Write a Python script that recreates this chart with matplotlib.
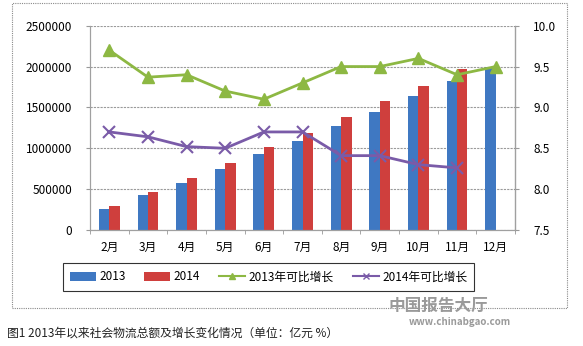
import matplotlib
matplotlib.use("Agg")
import matplotlib.pyplot as plt
import numpy as np
from matplotlib.patches import Patch, Rectangle
from matplotlib.lines import Line2D

plt.rcParams['font.family'] = ['Noto Sans CJK SC', 'DejaVu Sans']

months = ["2月", "3月", "4月", "5月", "6月", "7月", "8月", "9月", "10月", "11月", "12月"]
total_2013 = [257000, 432000, 580000, 744000, 927000, 1091000, 1275000, 1450000, 1634000, 1826000, 1989000]
total_2014 = [290000, 470000, 633000, 817000, 1017000, 1192000, 1381000, 1581000, 1765000, 1973000]
growth_2013 = [9.7, 9.37, 9.4, 9.2, 9.1, 9.3, 9.5, 9.5, 9.6, 9.4, 9.5]
growth_2014 = [8.7, 8.64, 8.52, 8.5, 8.7, 8.7, 8.41, 8.41, 8.3, 8.26]
left_ticks = [0, 500000, 1000000, 1500000, 2000000, 2500000]
right_ticks = [7.5, 8.0, 8.5, 9.0, 9.5, 10.0]
caption = "图1 2013年以来社会物流总额及增长变化情况（单位：亿元 %）"

blue = "#3F78C2"
red = "#CF3F3D"
green = "#8DB843"
purple = "#7A5BA8"

fig = plt.figure(figsize=(5.83, 3.46), dpi=100)
ax = fig.add_axes([90/583, 1-230/346, (515-90)/583, (230-25.7)/346])
ax2 = ax.twinx()

x = np.arange(len(months))
w = 0.27
ax.bar(x[:len(total_2013)] - w/2, total_2013, w, color=blue, zorder=2, label="2013")
ax.bar(x[:len(total_2014)] + w/2, total_2014, w, color=red, zorder=2, label="2014")
ax.set_ylim(0, 2500000)
ax.set_yticks(left_ticks)
ax.set_yticklabels([str(v) for v in left_ticks])
ax.set_xlim(-0.5, len(months)-0.5)
ax.set_xticks(x)
ax.set_xticklabels(months)
ax.set_xticks(np.arange(-0.5, len(months)), minor=True)
ax.tick_params(axis='x', which='major', length=0, pad=8, labelsize=8.5)
ax.tick_params(axis='x', which='minor', length=3, color='#999999', direction='out')
ax.tick_params(axis='y', length=3, color='#999999', labelsize=8.5, pad=10)
ax.grid(axis='y', color='#9A9A9A', linestyle=(0, (2, 1)), linewidth=0.8, zorder=0)
ax.set_axisbelow(True)
for s in ['top']:
    ax.spines[s].set_visible(False)
    ax2.spines[s].set_visible(False)
for sp in [ax.spines['left'], ax.spines['bottom'], ax2.spines['right'], ax2.spines['left'], ax2.spines['bottom']]:
    sp.set_color('#A0A0A0')
    sp.set_linewidth(0.8)

ax2.plot(x[:len(growth_2013)], growth_2013, color=green, marker='^', markersize=8, linewidth=2, zorder=4)
ax2.plot(x[:len(growth_2014)], growth_2014, color=purple, marker='x', markersize=8, markeredgewidth=1.5, linewidth=2, zorder=4)
ax2.set_ylim(7.5, 10.0)
ax2.set_yticks(right_ticks)
ax2.set_yticklabels([f"{v:.1f}" for v in right_ticks])
ax2.tick_params(axis='y', length=3, color='#999999', labelsize=8.5, pad=10)

handles = [
    Patch(facecolor=blue, label="2013"),
    Patch(facecolor=red, label="2014"),
    Line2D([0], [0], color=green, marker='^', markersize=5, linewidth=1.5, label="2013年可比增长"),
    Line2D([0], [0], color=purple, marker='x', markersize=5, linewidth=1.5, label="2014年可比增长"),
]
leg = fig.legend(handles=handles, loc='center', bbox_to_anchor=((65+472)/2/583, 1-277/346),
                 ncol=4, fontsize=8.5, frameon=True, fancybox=False, edgecolor='black',
                 handlelength=2.2, handleheight=0.8, columnspacing=1.6, handletextpad=0.3,
                 borderpad=0.6)
leg.get_frame().set_linewidth(0.8)

# outer dotted border
fig.patches.append(Rectangle((12/583, 1-308/346), (567-12)/583, (308-3)/346, transform=fig.transFigure,
                             fill=False, edgecolor='#8A8A8A', linestyle=(0, (1, 1)), linewidth=0.8))

fig.text(7/583, 1-333/346, caption, fontsize=8.5, va='center', ha='left', color='#222222')
fig.text(438/583, 1-306/346, "中国报告大厅", fontsize=12, va='center', ha='center', color='#9A9A9A', fontweight='bold')
fig.text(460/583, 1-322/346, "www.chinabgao.com", fontsize=7, va='center', ha='center', color='#9A9A9A', fontweight='bold')

fig.savefig("out.png", dpi=100)
